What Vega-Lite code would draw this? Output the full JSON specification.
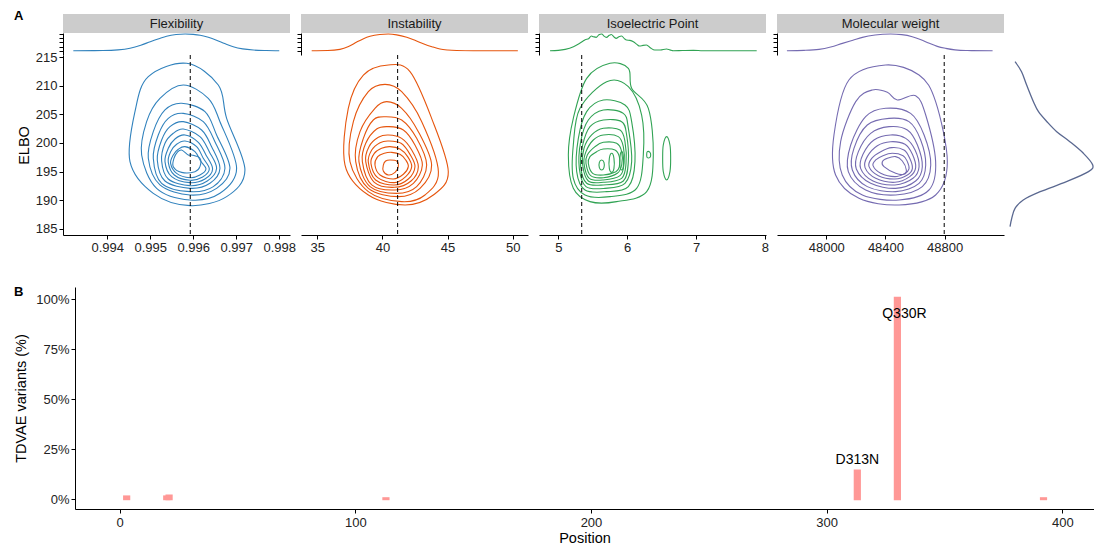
{
"$schema": "https://vega.github.io/schema/vega-lite/v6.json",
"padding": {"left": 13, "top": 10, "right": 0, "bottom": 0},
"background": "white",
"config": {
  "view": {"stroke": null},
  "font": "Liberation Sans",
  "axis": {"domainColor": "#000", "tickColor": "#000", "labelColor": "#222", "titleColor": "#000", "labelFontSize": 13, "titleFontSize": 14.5, "titleFontWeight": "normal", "grid": false, "tickSize": 4, "domainWidth": 1, "tickWidth": 1, "labelFont": "Liberation Sans", "titleFont": "Liberation Sans"}
},
"datasets": {
  "cflex": [
    {"r":1,"x":0.995845,"y":213.90},{"r":1,"x":0.996582,"y":210.12},{"r":1,"x":0.996776,"y":204.30},{"r":1,"x":0.997202,"y":195.29},{"r":1,"x":0.996776,"y":190.64},{"r":1,"x":0.995923,"y":189.07},{"r":1,"x":0.995070,"y":191.22},{"r":1,"x":0.994528,"y":196.75},{"r":1,"x":0.994644,"y":205.47},{"r":1,"x":0.994954,"y":211.57},
    {"r":2,"x":0.995768,"y":210.12},{"r":2,"x":0.996349,"y":207.79},{"r":2,"x":0.996621,"y":203.72},{"r":2,"x":0.997008,"y":195.58},{"r":2,"x":0.996621,"y":191.22},{"r":2,"x":0.995923,"y":190.06},{"r":2,"x":0.995148,"y":192.09},{"r":2,"x":0.994799,"y":197.91},{"r":2,"x":0.994915,"y":203.72},{"r":2,"x":0.995225,"y":207.79},
    {"r":3,"x":0.995729,"y":206.92},{"r":3,"x":0.996272,"y":205.47},{"r":3,"x":0.996543,"y":201.40},{"r":3,"x":0.996853,"y":195.58},{"r":3,"x":0.996543,"y":192.09},{"r":3,"x":0.995923,"y":190.93},{"r":3,"x":0.995225,"y":192.68},{"r":3,"x":0.994954,"y":197.33},{"r":3,"x":0.995070,"y":201.98},{"r":3,"x":0.995342,"y":205.76},
    {"r":4,"x":0.995768,"y":205.17},{"r":4,"x":0.996233,"y":203.72},{"r":4,"x":0.996504,"y":200.23},{"r":4,"x":0.996737,"y":195.58},{"r":4,"x":0.996466,"y":192.39},{"r":4,"x":0.995923,"y":191.51},{"r":4,"x":0.995264,"y":192.97},{"r":4,"x":0.995070,"y":197.33},{"r":4,"x":0.995186,"y":201.40},{"r":4,"x":0.995419,"y":204.30},
    {"r":5,"x":0.995768,"y":203.72},{"r":5,"x":0.996194,"y":202.27},{"r":5,"x":0.996427,"y":199.36},{"r":5,"x":0.996621,"y":195.58},{"r":5,"x":0.996388,"y":192.97},{"r":5,"x":0.995923,"y":192.09},{"r":5,"x":0.995342,"y":193.37},{"r":5,"x":0.995163,"y":197.04},{"r":5,"x":0.995264,"y":200.52},{"r":5,"x":0.995458,"y":202.85},
    {"r":6,"x":0.995768,"y":202.44},{"r":6,"x":0.996155,"y":201.11},{"r":6,"x":0.996373,"y":198.49},{"r":6,"x":0.996543,"y":195.58},{"r":6,"x":0.996326,"y":193.37},{"r":6,"x":0.995923,"y":192.56},{"r":6,"x":0.995419,"y":193.72},{"r":6,"x":0.995264,"y":196.86},{"r":6,"x":0.995342,"y":199.94},{"r":6,"x":0.995535,"y":201.69},
    {"r":7,"x":0.995807,"y":201.40},{"r":7,"x":0.996117,"y":200.12},{"r":7,"x":0.996295,"y":197.91},{"r":7,"x":0.996450,"y":195.47},{"r":7,"x":0.996272,"y":193.72},{"r":7,"x":0.995923,"y":193.08},{"r":7,"x":0.995497,"y":194.13},{"r":7,"x":0.995342,"y":196.75},{"r":7,"x":0.995419,"y":199.07},{"r":7,"x":0.995574,"y":200.70},
    {"r":8,"x":0.995807,"y":200.35},{"r":8,"x":0.996078,"y":199.36},{"r":8,"x":0.996233,"y":197.33},{"r":8,"x":0.996373,"y":195.47},{"r":8,"x":0.996218,"y":194.07},{"r":8,"x":0.995923,"y":193.49},{"r":8,"x":0.995559,"y":194.42},{"r":8,"x":0.995419,"y":196.63},{"r":8,"x":0.995473,"y":198.49},{"r":8,"x":0.995613,"y":199.77},
    {"r":9,"x":0.995807,"y":199.36},{"r":9,"x":0.996039,"y":198.49},{"r":9,"x":0.996171,"y":196.86},{"r":9,"x":0.996295,"y":195.47},{"r":9,"x":0.996155,"y":194.42},{"r":9,"x":0.995923,"y":193.95},{"r":9,"x":0.995613,"y":194.71},{"r":9,"x":0.995473,"y":196.45},{"r":9,"x":0.995535,"y":197.91},{"r":9,"x":0.995652,"y":198.90},
    {"r":10,"x":0.995729,"y":198.78},{"r":10,"x":0.995884,"y":197.91},{"r":10,"x":0.995962,"y":197.91},{"r":10,"x":0.996155,"y":197.33},{"r":10,"x":0.996155,"y":195.87},{"r":10,"x":0.996039,"y":195.00},{"r":10,"x":0.995729,"y":194.88},{"r":10,"x":0.995535,"y":195.87},{"r":10,"x":0.995551,"y":197.33},{"r":10,"x":0.995628,"y":198.37}
  ],
  "cinst": [
    {"r":1,"x":40.46,"y":213.61},{"r":1,"x":42.12,"y":212.44},{"r":1,"x":43.78,"y":204.30},{"r":1,"x":45.06,"y":195.00},{"r":1,"x":43.91,"y":190.93},{"r":1,"x":41.74,"y":189.19},{"r":1,"x":38.92,"y":190.93},{"r":1,"x":37.13,"y":196.16},{"r":1,"x":37.38,"y":206.05},{"r":1,"x":38.54,"y":211.86},
    {"r":2,"x":40.20,"y":210.23},{"r":2,"x":41.48,"y":208.95},{"r":2,"x":43.02,"y":203.72},{"r":2,"x":44.30,"y":195.00},{"r":2,"x":43.27,"y":190.93},{"r":2,"x":41.48,"y":189.77},{"r":2,"x":38.92,"y":191.51},{"r":2,"x":37.51,"y":196.75},{"r":2,"x":37.77,"y":203.72},{"r":2,"x":38.92,"y":208.95},
    {"r":3,"x":40.33,"y":207.21},{"r":3,"x":41.48,"y":206.05},{"r":3,"x":42.76,"y":201.98},{"r":3,"x":43.78,"y":196.16},{"r":3,"x":42.89,"y":192.09},{"r":3,"x":41.22,"y":190.64},{"r":3,"x":38.92,"y":192.09},{"r":3,"x":37.95,"y":196.75},{"r":3,"x":38.28,"y":201.98},{"r":3,"x":39.43,"y":206.05},
    {"r":4,"x":40.20,"y":204.59},{"r":4,"x":41.48,"y":204.01},{"r":4,"x":42.63,"y":200.81},{"r":4,"x":43.40,"y":196.16},{"r":4,"x":42.63,"y":192.39},{"r":4,"x":41.10,"y":191.22},{"r":4,"x":39.05,"y":192.39},{"r":4,"x":38.20,"y":196.75},{"r":4,"x":38.54,"y":200.81},{"r":4,"x":39.30,"y":204.01},
    {"r":5,"x":40.46,"y":202.85},{"r":5,"x":41.61,"y":202.27},{"r":5,"x":42.50,"y":199.65},{"r":5,"x":43.07,"y":196.16},{"r":5,"x":42.38,"y":192.97},{"r":5,"x":40.97,"y":191.80},{"r":5,"x":39.18,"y":192.68},{"r":5,"x":38.46,"y":196.75},{"r":5,"x":38.72,"y":199.94},{"r":5,"x":39.56,"y":202.44},
    {"r":6,"x":40.46,"y":201.40},{"r":6,"x":41.48,"y":200.81},{"r":6,"x":42.25,"y":198.78},{"r":6,"x":42.76,"y":195.87},{"r":6,"x":42.20,"y":193.37},{"r":6,"x":40.92,"y":192.27},{"r":6,"x":39.38,"y":193.14},{"r":6,"x":38.72,"y":196.75},{"r":6,"x":38.97,"y":199.36},{"r":6,"x":39.69,"y":200.99},
    {"r":7,"x":40.46,"y":200.35},{"r":7,"x":41.43,"y":199.94},{"r":7,"x":42.12,"y":198.02},{"r":7,"x":42.50,"y":195.87},{"r":7,"x":41.99,"y":193.72},{"r":7,"x":40.92,"y":192.68},{"r":7,"x":39.48,"y":193.55},{"r":7,"x":38.92,"y":196.63},{"r":7,"x":39.18,"y":198.78},{"r":7,"x":39.82,"y":200.06},
    {"r":8,"x":40.58,"y":199.36},{"r":8,"x":41.35,"y":198.95},{"r":8,"x":41.94,"y":197.62},{"r":8,"x":42.25,"y":195.87},{"r":8,"x":41.79,"y":194.13},{"r":8,"x":40.92,"y":193.08},{"r":8,"x":39.64,"y":193.95},{"r":8,"x":39.12,"y":196.45},{"r":8,"x":39.38,"y":198.20},{"r":8,"x":39.94,"y":199.07},
    {"r":9,"x":40.71,"y":198.37},{"r":9,"x":41.35,"y":198.02},{"r":9,"x":41.79,"y":197.04},{"r":9,"x":41.99,"y":195.87},{"r":9,"x":41.61,"y":194.54},{"r":9,"x":40.84,"y":193.72},{"r":9,"x":39.82,"y":194.42},{"r":9,"x":39.43,"y":196.16},{"r":9,"x":39.64,"y":197.62},{"r":9,"x":40.15,"y":198.20},
    {"r":10,"x":40.58,"y":197.04},{"r":10,"x":41.10,"y":196.86},{"r":10,"x":41.22,"y":195.87},{"r":10,"x":40.97,"y":194.88},{"r":10,"x":40.46,"y":194.42},{"r":10,"x":40.07,"y":195.12},{"r":10,"x":40.07,"y":196.16},{"r":10,"x":40.25,"y":196.86}
  ],
  "cpi": [
    {"r":1,"x":5.750,"y":213.90},{"r":1,"x":6.017,"y":213.02},{"r":1,"x":6.065,"y":209.54},{"r":1,"x":6.307,"y":206.05},{"r":1,"x":6.379,"y":197.91},{"r":1,"x":6.283,"y":191.51},{"r":1,"x":5.847,"y":189.77},{"r":1,"x":5.460,"y":189.77},{"r":1,"x":5.218,"y":192.09},{"r":1,"x":5.146,"y":197.91},{"r":1,"x":5.218,"y":204.30},{"r":1,"x":5.412,"y":211.28},
    {"r":2,"x":5.702,"y":210.70},{"r":2,"x":6.017,"y":209.83},{"r":2,"x":6.210,"y":204.88},{"r":2,"x":6.234,"y":197.91},{"r":2,"x":6.137,"y":192.09},{"r":2,"x":5.750,"y":190.64},{"r":2,"x":5.388,"y":190.93},{"r":2,"x":5.218,"y":193.84},{"r":2,"x":5.218,"y":199.65},{"r":2,"x":5.315,"y":206.05},
    {"r":3,"x":5.654,"y":207.50},{"r":3,"x":5.968,"y":206.63},{"r":3,"x":6.065,"y":203.72},{"r":3,"x":6.113,"y":196.75},{"r":3,"x":6.017,"y":192.39},{"r":3,"x":5.702,"y":191.51},{"r":3,"x":5.388,"y":191.80},{"r":3,"x":5.267,"y":195.00},{"r":3,"x":5.291,"y":200.81},{"r":3,"x":5.412,"y":205.47},
    {"r":4,"x":5.654,"y":205.76},{"r":4,"x":5.944,"y":205.17},{"r":4,"x":6.017,"y":202.56},{"r":4,"x":6.065,"y":196.75},{"r":4,"x":5.968,"y":192.97},{"r":4,"x":5.678,"y":192.09},{"r":4,"x":5.402,"y":192.39},{"r":4,"x":5.305,"y":195.58},{"r":4,"x":5.325,"y":200.23},{"r":4,"x":5.436,"y":204.01},
    {"r":5,"x":5.654,"y":204.01},{"r":5,"x":5.920,"y":203.72},{"r":5,"x":5.992,"y":201.40},{"r":5,"x":6.017,"y":196.75},{"r":5,"x":5.944,"y":193.37},{"r":5,"x":5.654,"y":192.68},{"r":5,"x":5.412,"y":192.97},{"r":5,"x":5.325,"y":195.87},{"r":5,"x":5.354,"y":199.65},{"r":5,"x":5.460,"y":202.85},
    {"r":6,"x":5.654,"y":202.56},{"r":6,"x":5.896,"y":202.27},{"r":6,"x":5.968,"y":200.23},{"r":6,"x":5.983,"y":196.45},{"r":6,"x":5.920,"y":193.84},{"r":6,"x":5.654,"y":193.14},{"r":6,"x":5.436,"y":193.37},{"r":6,"x":5.354,"y":196.16},{"r":6,"x":5.373,"y":199.07},{"r":6,"x":5.484,"y":201.40},
    {"r":7,"x":5.654,"y":201.40},{"r":7,"x":5.871,"y":201.11},{"r":7,"x":5.944,"y":199.36},{"r":7,"x":5.954,"y":196.45},{"r":7,"x":5.896,"y":194.30},{"r":7,"x":5.654,"y":193.55},{"r":7,"x":5.450,"y":193.84},{"r":7,"x":5.373,"y":196.45},{"r":7,"x":5.402,"y":198.49},{"r":7,"x":5.508,"y":200.52},
    {"r":8,"x":5.654,"y":200.12},{"r":8,"x":5.847,"y":199.94},{"r":8,"x":5.920,"y":198.49},{"r":8,"x":5.920,"y":196.16},{"r":8,"x":5.857,"y":194.71},{"r":8,"x":5.654,"y":193.95},{"r":8,"x":5.470,"y":194.30},{"r":8,"x":5.402,"y":196.45},{"r":8,"x":5.421,"y":197.91},{"r":8,"x":5.533,"y":199.36},
    {"r":9,"x":5.654,"y":198.95},{"r":9,"x":5.823,"y":198.78},{"r":9,"x":5.886,"y":197.62},{"r":9,"x":5.886,"y":195.87},{"r":9,"x":5.837,"y":195.00},{"r":9,"x":5.654,"y":194.42},{"r":9,"x":5.499,"y":194.71},{"r":9,"x":5.436,"y":196.45},{"r":9,"x":5.460,"y":197.62},{"r":9,"x":5.557,"y":198.49},
    {"r":10,"x":6.573,"y":201.11},{"r":10,"x":6.621,"y":199.65},{"r":10,"x":6.631,"y":197.33},{"r":10,"x":6.621,"y":195.00},{"r":10,"x":6.573,"y":193.55},{"r":10,"x":6.524,"y":195.00},{"r":10,"x":6.515,"y":197.33},{"r":10,"x":6.524,"y":199.65},
    {"r":11,"x":6.292,"y":198.49},{"r":11,"x":6.331,"y":198.37},{"r":11,"x":6.341,"y":197.91},{"r":11,"x":6.331,"y":197.50},{"r":11,"x":6.292,"y":197.44},{"r":11,"x":6.283,"y":197.91},
    {"r":12,"x":5.920,"y":198.49},{"r":12,"x":5.944,"y":197.62},{"r":12,"x":5.944,"y":195.87},{"r":12,"x":5.920,"y":195.29},{"r":12,"x":5.896,"y":195.87},{"r":12,"x":5.896,"y":197.62},
    {"r":13,"x":5.775,"y":198.20},{"r":13,"x":5.808,"y":197.33},{"r":13,"x":5.808,"y":195.58},{"r":13,"x":5.775,"y":194.88},{"r":13,"x":5.741,"y":195.58},{"r":13,"x":5.741,"y":197.33},
    {"r":14,"x":5.629,"y":197.04},{"r":14,"x":5.663,"y":196.63},{"r":14,"x":5.663,"y":195.70},{"r":14,"x":5.629,"y":195.29},{"r":14,"x":5.596,"y":195.70},{"r":14,"x":5.596,"y":196.63}
  ],
  "cmw": [
    {"r":1,"x":48401,"y":213.61},{"r":1,"x":48627,"y":211.86},{"r":1,"x":48739,"y":207.21},{"r":1,"x":48818,"y":196.75},{"r":1,"x":48739,"y":190.93},{"r":1,"x":48492,"y":189.19},{"r":1,"x":48221,"y":190.35},{"r":1,"x":48063,"y":194.42},{"r":1,"x":48052,"y":201.40},{"r":1,"x":48153,"y":210.99},
    {"r":2,"x":48311,"y":209.25},{"r":2,"x":48413,"y":208.84},{"r":2,"x":48480,"y":207.50},{"r":2,"x":48604,"y":208.26},{"r":2,"x":48672,"y":204.88},{"r":2,"x":48739,"y":196.75},{"r":2,"x":48694,"y":191.80},{"r":2,"x":48492,"y":190.06},{"r":2,"x":48244,"y":190.93},{"r":2,"x":48108,"y":194.42},{"r":2,"x":48097,"y":200.23},{"r":2,"x":48199,"y":207.21},
    {"r":3,"x":48401,"y":206.05},{"r":3,"x":48570,"y":205.17},{"r":3,"x":48661,"y":201.40},{"r":3,"x":48706,"y":196.16},{"r":3,"x":48649,"y":192.39},{"r":3,"x":48469,"y":190.93},{"r":3,"x":48266,"y":191.80},{"r":3,"x":48149,"y":195.00},{"r":3,"x":48165,"y":199.65},{"r":3,"x":48266,"y":204.59},
    {"r":4,"x":48424,"y":204.30},{"r":4,"x":48559,"y":203.72},{"r":4,"x":48638,"y":200.52},{"r":4,"x":48672,"y":196.16},{"r":4,"x":48627,"y":192.97},{"r":4,"x":48469,"y":191.51},{"r":4,"x":48277,"y":192.39},{"r":4,"x":48176,"y":195.29},{"r":4,"x":48187,"y":199.07},{"r":4,"x":48277,"y":203.14},
    {"r":5,"x":48424,"y":202.85},{"r":5,"x":48548,"y":202.27},{"r":5,"x":48616,"y":199.65},{"r":5,"x":48649,"y":195.87},{"r":5,"x":48604,"y":193.37},{"r":5,"x":48469,"y":192.09},{"r":5,"x":48300,"y":192.97},{"r":5,"x":48203,"y":195.47},{"r":5,"x":48217,"y":198.49},{"r":5,"x":48300,"y":201.69},
    {"r":6,"x":48435,"y":201.40},{"r":6,"x":48537,"y":200.81},{"r":6,"x":48600,"y":198.78},{"r":6,"x":48627,"y":195.87},{"r":6,"x":48586,"y":193.84},{"r":6,"x":48464,"y":192.68},{"r":6,"x":48316,"y":193.37},{"r":6,"x":48232,"y":195.58},{"r":6,"x":48248,"y":198.02},{"r":6,"x":48322,"y":200.52},
    {"r":7,"x":48435,"y":200.23},{"r":7,"x":48532,"y":199.77},{"r":7,"x":48582,"y":198.02},{"r":7,"x":48604,"y":195.70},{"r":7,"x":48564,"y":194.13},{"r":7,"x":48464,"y":193.14},{"r":7,"x":48334,"y":193.84},{"r":7,"x":48262,"y":195.70},{"r":7,"x":48277,"y":197.62},{"r":7,"x":48345,"y":199.53},
    {"r":8,"x":48442,"y":199.19},{"r":8,"x":48525,"y":198.78},{"r":8,"x":48564,"y":197.33},{"r":8,"x":48582,"y":195.58},{"r":8,"x":48548,"y":194.42},{"r":8,"x":48464,"y":193.72},{"r":8,"x":48352,"y":194.30},{"r":8,"x":48289,"y":195.87},{"r":8,"x":48307,"y":197.33},{"r":8,"x":48368,"y":198.49},
    {"r":9,"x":48446,"y":198.20},{"r":9,"x":48519,"y":197.79},{"r":9,"x":48548,"y":196.75},{"r":9,"x":48559,"y":195.47},{"r":9,"x":48532,"y":194.71},{"r":9,"x":48464,"y":194.13},{"r":9,"x":48368,"y":194.71},{"r":9,"x":48316,"y":196.05},{"r":9,"x":48334,"y":197.04},{"r":9,"x":48383,"y":197.79},
    {"r":10,"x":48469,"y":197.62},{"r":10,"x":48514,"y":196.86},{"r":10,"x":48541,"y":195.29},{"r":10,"x":48525,"y":194.54},{"r":10,"x":48469,"y":194.71},{"r":10,"x":48390,"y":195.87},{"r":10,"x":48379,"y":196.75},{"r":10,"x":48413,"y":197.33}
  ],
  "mflex": [
    {"x":0.99321,"v":0},{"x":0.9939,"v":0.01},{"x":0.99425,"v":0.05},{"x":0.99453,"v":0.15},{"x":0.99478,"v":0.33},{"x":0.995,"v":0.54},{"x":0.9952,"v":0.72},{"x":0.99538,"v":0.87},{"x":0.9956,"v":0.97},{"x":0.99581,"v":1.0},{"x":0.996,"v":0.98},{"x":0.99616,"v":0.93},{"x":0.99635,"v":0.8},{"x":0.99654,"v":0.63},{"x":0.99673,"v":0.43},{"x":0.99693,"v":0.24},{"x":0.99715,"v":0.11},{"x":0.9974,"v":0.04},{"x":0.9977,"v":0.01},{"x":0.998,"v":0}
  ],
  "minst": [
    {"x":34.57,"v":0},{"x":35.8,"v":0.01},{"x":36.74,"v":0.08},{"x":37.4,"v":0.25},{"x":38.03,"v":0.52},{"x":38.55,"v":0.72},{"x":39.05,"v":0.86},{"x":39.8,"v":0.97},{"x":40.45,"v":1.0},{"x":41.1,"v":0.95},{"x":41.87,"v":0.8},{"x":42.5,"v":0.62},{"x":43.14,"v":0.42},{"x":43.8,"v":0.24},{"x":44.42,"v":0.1},{"x":45.0,"v":0.04},{"x":45.7,"v":0.01},{"x":47.0,"v":0},{"x":50.4,"v":0}
  ],
  "mpi": [
    {"x":4.88,"v":0},{"x":5.0,"v":0.02},{"x":5.1,"v":0.08},{"x":5.22,"v":0.24},{"x":5.3,"v":0.42},{"x":5.35,"v":0.55},{"x":5.39,"v":0.66},{"x":5.44,"v":0.72},{"x":5.48,"v":0.88},{"x":5.51,"v":0.84},{"x":5.55,"v":0.8},{"x":5.59,"v":0.95},{"x":5.63,"v":1.0},{"x":5.67,"v":0.86},{"x":5.7,"v":0.8},{"x":5.74,"v":0.92},{"x":5.77,"v":0.97},{"x":5.81,"v":0.82},{"x":5.84,"v":0.74},{"x":5.88,"v":0.84},{"x":5.92,"v":0.88},{"x":5.96,"v":0.72},{"x":5.99,"v":0.64},{"x":6.04,"v":0.62},{"x":6.09,"v":0.54},{"x":6.14,"v":0.38},{"x":6.18,"v":0.28},{"x":6.23,"v":0.32},{"x":6.28,"v":0.34},{"x":6.34,"v":0.16},{"x":6.4,"v":0.04},{"x":6.48,"v":0.04},{"x":6.57,"v":0.1},{"x":6.62,"v":0.05},{"x":6.67,"v":0.0},{"x":6.8,"v":0.01},{"x":6.96,"v":0.02},{"x":7.1,"v":0.0},{"x":7.88,"v":0}
  ],
  "mmw": [
    {"x":47734,"v":0},{"x":47850,"v":0.02},{"x":47951,"v":0.08},{"x":48030,"v":0.22},{"x":48109,"v":0.44},{"x":48180,"v":0.63},{"x":48244,"v":0.8},{"x":48330,"v":0.94},{"x":48435,"v":1.0},{"x":48510,"v":0.96},{"x":48581,"v":0.84},{"x":48640,"v":0.66},{"x":48697,"v":0.44},{"x":48750,"v":0.26},{"x":48807,"v":0.14},{"x":48870,"v":0.05},{"x":48943,"v":0.01},{"x":49124,"v":0}
  ],
  "melbo": [
    {"v":0.083,"e":214.18},{"v":0.16,"e":212.44},{"v":0.22,"e":210.12},{"v":0.3,"e":207.21},{"v":0.36,"e":205.46},{"v":0.46,"e":203.71},{"v":0.575,"e":201.97},{"v":0.73,"e":200.23},{"v":0.89,"e":198.2},{"v":1.0,"e":196.16},{"v":0.95,"e":195.0},{"v":0.69,"e":193.25},{"v":0.38,"e":191.5},{"v":0.18,"e":190.06},{"v":0.083,"e":188.6},{"v":0.044,"e":186.86},{"v":0.024,"e":185.4}
  ],
  "bars": [
    {"pos":3,"frac":0.012},{"pos":20,"frac":0.012},{"pos":21,"frac":0.017},{"pos":113,"frac":0.003},{"pos":313,"frac":0.142},{"pos":330,"frac":1.005},{"pos":392,"frac":0.003}
  ],
  "labs": [
    {"name":"D313N","pos":313,"frac":0.142},{"name":"Q330R","pos":330,"frac":1.005}
  ]
},
"vconcat": [
 {
  "concat": [
    {"width":227,"height":19,"view":{"fill":"#cccccc","stroke":null},
     "title":{"text":"A","anchor":"start","frame":"group","dx":-49,"dy":9,"offset":0,"fontSize":13,"fontWeight":"bold","color":"#000"},
     "data":{"values":[{"name":"Flexibility"}]},"mark":{"type":"text","fontSize":13,"color":"#1a1a1a","baseline":"middle"},"encoding":{"text":{"field":"name"}}},
    {"width":227,"height":19,"view":{"fill":"#cccccc","stroke":null},"data":{"values":[{"name":"Instability"}]},"mark":{"type":"text","fontSize":13,"color":"#1a1a1a","baseline":"middle"},"encoding":{"text":{"field":"name"}}},
    {"width":227,"height":19,"view":{"fill":"#cccccc","stroke":null},"data":{"values":[{"name":"Isoelectric Point"}]},"mark":{"type":"text","fontSize":13,"color":"#1a1a1a","baseline":"middle"},"encoding":{"text":{"field":"name"}}},
    {"width":227,"height":19,"view":{"fill":"#cccccc","stroke":null},"data":{"values":[{"name":"Molecular weight"}]},"mark":{"type":"text","fontSize":13,"color":"#1a1a1a","baseline":"middle"},"encoding":{"text":{"field":"name"}}},
    {"width":1,"height":1,"data":{"values":[]},"mark":{"type":"point","opacity":0}},

    {"width":227,"height":22,"data":{"name":"mflex"},"mark":{"type":"line","color":"#3182bd","interpolate":"monotone","strokeWidth":1.1},
     "encoding":{"x":{"field":"x","type":"quantitative","scale":{"domain":[0.99297,0.99825],"nice":false,"zero":false},"axis":null},
                 "y":{"field":"v","type":"quantitative","scale":{"domain":[-0.257,1.06],"nice":false,"zero":false},"axis":{"values":[0,0.25,0.5,0.75,1],"labels":false,"title":null,"tickSize":4}}}},
    {"width":227,"height":22,"data":{"name":"minst"},"mark":{"type":"line","color":"#e6550d","interpolate":"monotone","strokeWidth":1.1},
     "encoding":{"x":{"field":"x","type":"quantitative","scale":{"domain":[33.75,51.18],"nice":false,"zero":false},"axis":null},
                 "y":{"field":"v","type":"quantitative","scale":{"domain":[-0.257,1.06],"nice":false,"zero":false},"axis":{"values":[0,0.25,0.5,0.75,1],"labels":false,"title":null,"tickSize":4}}}},
    {"width":227,"height":22,"data":{"name":"mpi"},"mark":{"type":"line","color":"#31a354","interpolate":"monotone","strokeWidth":1.1},
     "encoding":{"x":{"field":"x","type":"quantitative","scale":{"domain":[4.72,8.015],"nice":false,"zero":false},"axis":null},
                 "y":{"field":"v","type":"quantitative","scale":{"domain":[-0.257,1.06],"nice":false,"zero":false},"axis":{"values":[0,0.25,0.5,0.75,1],"labels":false,"title":null,"tickSize":4}}}},
    {"width":227,"height":22,"data":{"name":"mmw"},"mark":{"type":"line","color":"#756bb1","interpolate":"monotone","strokeWidth":1.1},
     "encoding":{"x":{"field":"x","type":"quantitative","scale":{"domain":[47667,49201],"nice":false,"zero":false},"axis":null},
                 "y":{"field":"v","type":"quantitative","scale":{"domain":[-0.257,1.06],"nice":false,"zero":false},"axis":{"values":[0,0.25,0.5,0.75,1],"labels":false,"title":null,"tickSize":4}}}},
    {"width":1,"height":1,"data":{"values":[]},"mark":{"type":"point","opacity":0}},

    {"width":227,"height":180,
     "layer":[
       {"data":{"name":"cflex"},"mark":{"type":"line","interpolate":"cardinal-closed","color":"#3182bd","strokeWidth":1.1},
        "encoding":{"x":{"field":"x","type":"quantitative","scale":{"domain":[0.99297,0.99825],"nice":false,"zero":false},"axis":{"values":[0.994,0.995,0.996,0.997,0.998],"format":".3f","title":null,"labelPadding":2}},
                    "y":{"field":"y","type":"quantitative","scale":{"domain":[183.95,215.35],"nice":false,"zero":false},"axis":{"values":[185,190,195,200,205,210,215],"title":"ELBO","titlePadding":4}},
                    "detail":{"field":"r","type":"nominal"},"order":{"value":null}}},
       {"data":{"values":[{"wt":0.99593}]},"mark":{"type":"rule","strokeDash":[4,3],"color":"#000","strokeWidth":1},
        "encoding":{"x":{"field":"wt","type":"quantitative","scale":{"domain":[0.99297,0.99825],"nice":false,"zero":false}}}}
     ]},
    {"width":227,"height":180,
     "layer":[
       {"data":{"name":"cinst"},"mark":{"type":"line","interpolate":"cardinal-closed","color":"#e6550d","strokeWidth":1.1},
        "encoding":{"x":{"field":"x","type":"quantitative","scale":{"domain":[33.75,51.18],"nice":false,"zero":false},"axis":{"values":[35,40,45,50],"title":null,"labelPadding":2}},
                    "y":{"field":"y","type":"quantitative","scale":{"domain":[183.95,215.35],"nice":false,"zero":false},"axis":null},
                    "detail":{"field":"r","type":"nominal"},"order":{"value":null}}},
       {"data":{"values":[{"wt":41.17}]},"mark":{"type":"rule","strokeDash":[4,3],"color":"#000","strokeWidth":1},
        "encoding":{"x":{"field":"wt","type":"quantitative","scale":{"domain":[33.75,51.18],"nice":false,"zero":false}}}}
     ]},
    {"width":227,"height":180,
     "layer":[
       {"data":{"name":"cpi"},"mark":{"type":"line","interpolate":"cardinal-closed","color":"#31a354","strokeWidth":1.1},
        "encoding":{"x":{"field":"x","type":"quantitative","scale":{"domain":[4.72,8.015],"nice":false,"zero":false},"axis":{"values":[5,6,7,8],"format":"d","title":null,"labelPadding":2}},
                    "y":{"field":"y","type":"quantitative","scale":{"domain":[183.95,215.35],"nice":false,"zero":false},"axis":null},
                    "detail":{"field":"r","type":"nominal"},"order":{"value":null}}},
       {"data":{"values":[{"wt":5.34}]},"mark":{"type":"rule","strokeDash":[4,3],"color":"#000","strokeWidth":1},
        "encoding":{"x":{"field":"wt","type":"quantitative","scale":{"domain":[4.72,8.015],"nice":false,"zero":false}}}}
     ]},
    {"width":227,"height":180,
     "layer":[
       {"data":{"name":"cmw"},"mark":{"type":"line","interpolate":"cardinal-closed","color":"#756bb1","strokeWidth":1.1},
        "encoding":{"x":{"field":"x","type":"quantitative","scale":{"domain":[47667,49201],"nice":false,"zero":false},"axis":{"values":[48000,48400,48800],"format":"d","title":null,"labelPadding":2}},
                    "y":{"field":"y","type":"quantitative","scale":{"domain":[183.95,215.35],"nice":false,"zero":false},"axis":null},
                    "detail":{"field":"r","type":"nominal"},"order":{"value":null}}},
       {"data":{"values":[{"wt":48797}]},"mark":{"type":"rule","strokeDash":[4,3],"color":"#000","strokeWidth":1},
        "encoding":{"x":{"field":"wt","type":"quantitative","scale":{"domain":[47667,49201],"nice":false,"zero":false}}}}
     ]},
    {"width":79,"height":180,"data":{"name":"melbo"},"mark":{"type":"line","interpolate":"cardinal","color":"#5a6890","strokeWidth":1.3},
     "encoding":{"x":{"field":"v","type":"quantitative","scale":{"domain":[0.0826,1.015],"nice":false,"zero":false},"axis":null},
                 "y":{"field":"e","type":"quantitative","scale":{"domain":[183.95,215.35],"nice":false,"zero":false},"axis":null},
                 "order":{"value":null}}}
  ],
  "columns": 5,
  "spacing": {"row": 0, "column": 11},
  "bounds": "flush"
 },
 {
  "hconcat": [
    {"width":1,"height":1,"data":{"values":[]},"mark":{"type":"point","opacity":0}},
    {"width":1019,"height":222,
     "title":{"text":"B","anchor":"start","frame":"group","dx":-61,"dy":12,"offset":0,"fontSize":13,"fontWeight":"bold","color":"#000"},
     "layer":[
       {"data":{"name":"bars"},"mark":{"type":"bar","width":4.8,"color":"#ff9896","stroke":"#ff9896","strokeWidth":2.4},
        "encoding":{"x":{"field":"pos","type":"quantitative","scale":{"domain":[-16.8,411.3],"nice":false,"zero":false},"axis":{"values":[0,100,200,300,400],"title":"Position","labelPadding":3,"titlePadding":2}},
                    "y":{"field":"frac","type":"quantitative","scale":{"domain":[-0.05,1.06],"nice":false},"axis":{"values":[0,0.25,0.5,0.75,1],"format":".0%","title":"TDVAE variants (%)","titlePadding":7}}}},
       {"data":{"name":"labs"},"transform":[{"filter":"datum.name == 'D313N'"}],"mark":{"type":"text","fontSize":14,"color":"#000","baseline":"bottom","dy":-4},
        "encoding":{"x":{"field":"pos","type":"quantitative"},"y":{"field":"frac","type":"quantitative"},"text":{"field":"name"}}},
       {"data":{"name":"labs"},"transform":[{"filter":"datum.name == 'Q330R'"}],"mark":{"type":"text","fontSize":14,"color":"#000","baseline":"top","dy":9,"dx":7},
        "encoding":{"x":{"field":"pos","type":"quantitative"},"y":{"field":"frac","type":"quantitative"},"text":{"field":"name"}}}
     ]}
  ],
  "spacing": 11,
  "bounds": "flush"
 }
],
"spacing": 273,
"bounds": "flush"
}
